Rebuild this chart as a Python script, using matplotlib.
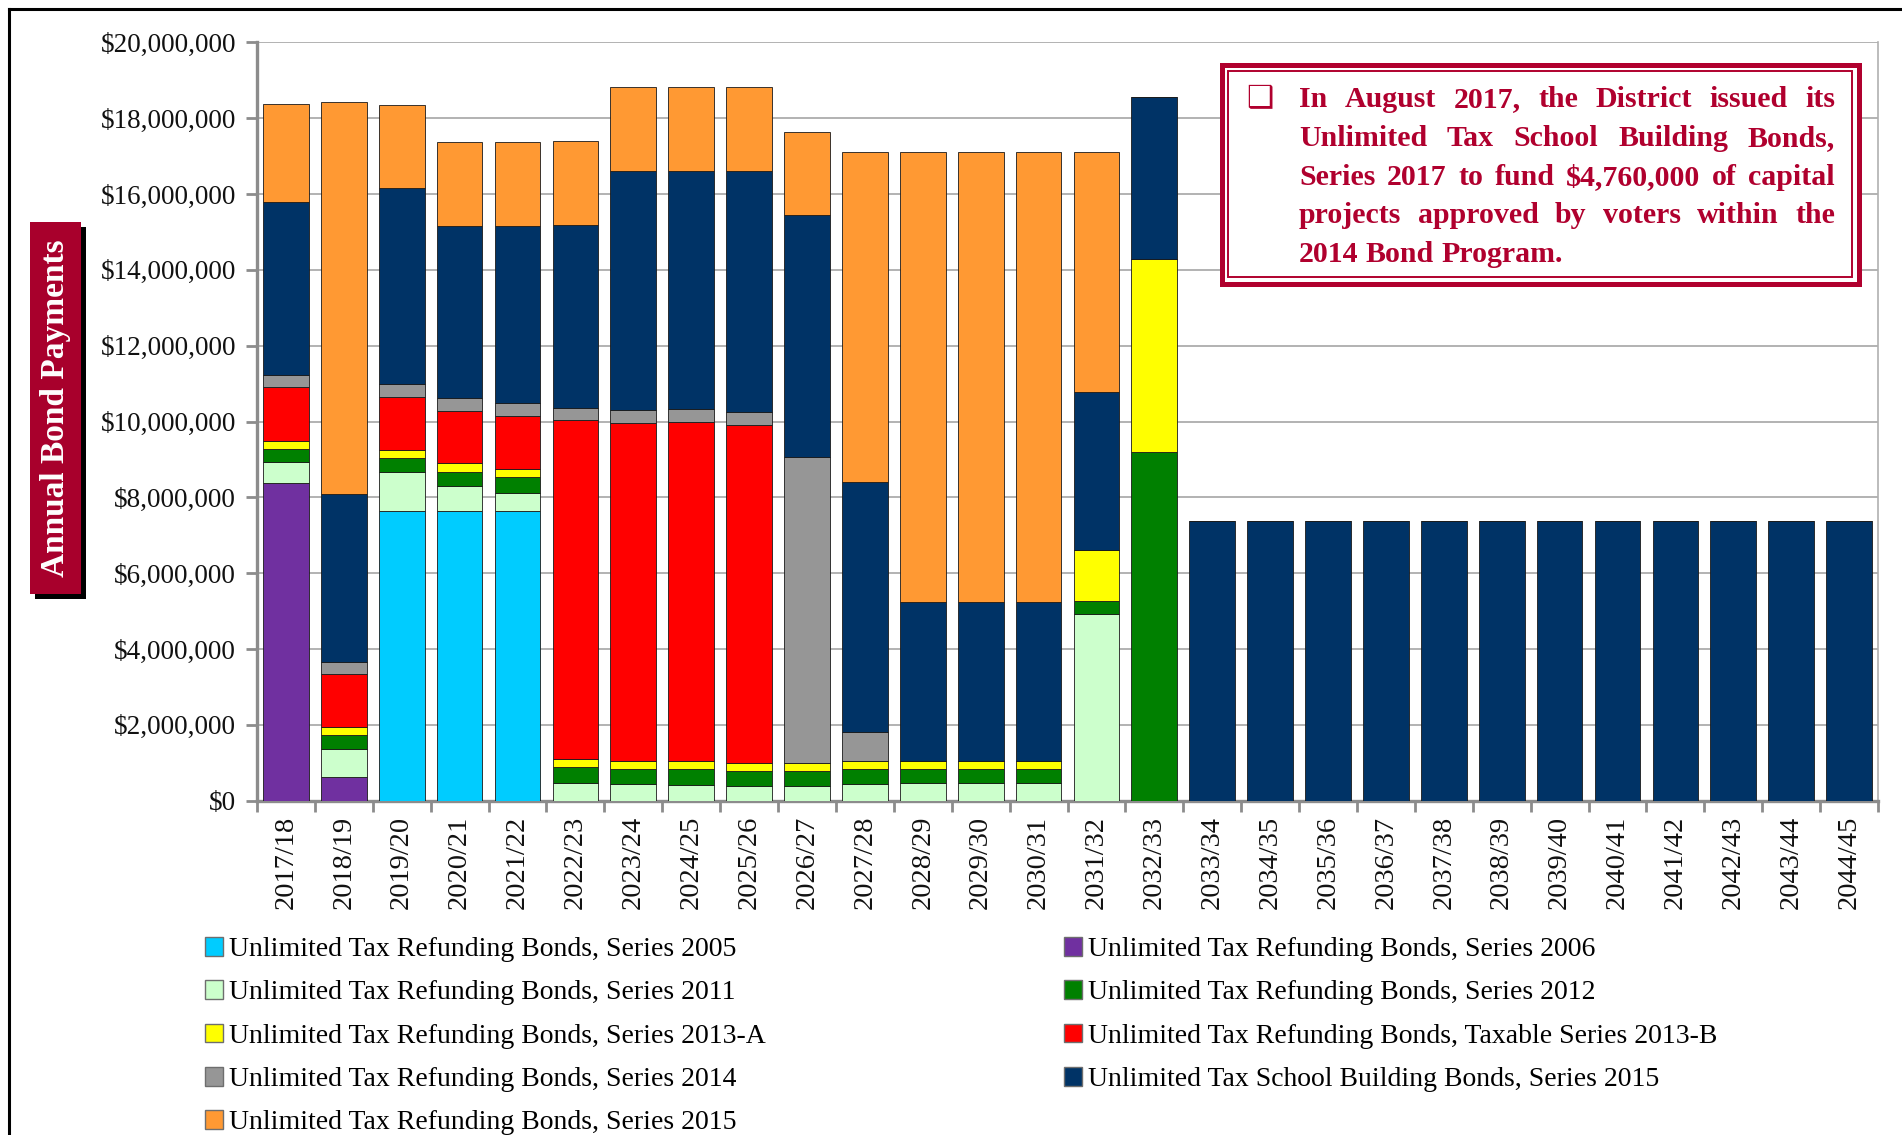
import matplotlib
matplotlib.use("Agg")
import matplotlib.pyplot as plt
from matplotlib.patches import Rectangle
from matplotlib.lines import Line2D
from matplotlib.ticker import FuncFormatter, MultipleLocator, FixedLocator

# ---------------- data (millions of dollars) ----------------
years = ["2017/18", "2018/19", "2019/20", "2020/21", "2021/22", "2022/23", "2023/24",
         "2024/25", "2025/26", "2026/27", "2027/28", "2028/29", "2029/30", "2030/31",
         "2031/32", "2032/33", "2033/34", "2034/35", "2035/36", "2036/37", "2037/38",
         "2038/39", "2039/40", "2040/41", "2041/42", "2042/43", "2043/44", "2044/45"]

z12 = [0] * 12
ref_2006 = [8.37, 0.63] + [0] * 14 + z12
ref_2005 = [0, 0, 7.63, 7.63, 7.63] + [0] * 11 + z12
ref_2011 = [0.55, 0.73, 1.03, 0.67, 0.48, 0.47, 0.43, 0.42, 0.40, 0.40, 0.45, 0.47, 0.47, 0.47, 4.93, 0] + z12
ref_2012 = [0.36, 0.37, 0.38, 0.38, 0.42, 0.42, 0.41, 0.41, 0.38, 0.38, 0.38, 0.36, 0.36, 0.36, 0.35, 9.20] + z12
ref_2013a = [0.21, 0.21, 0.22, 0.22, 0.22, 0.20, 0.22, 0.22, 0.21, 0.21, 0.21, 0.21, 0.21, 0.21, 1.32, 5.10] + z12
ref_2013b = [1.41, 1.39, 1.39, 1.38, 1.40, 8.94, 8.91, 8.93, 8.93, 0, 0, 0, 0, 0, 0, 0] + z12
ref_2014 = [0.33, 0.34, 0.33, 0.35, 0.35, 0.34, 0.34, 0.34, 0.33, 8.08, 0.76, 0, 0, 0, 0, 0] + z12
sb_2015 = [4.55, 4.41, 5.19, 4.54, 4.67, 4.81, 6.30, 6.30, 6.37, 6.37, 6.60, 4.20, 4.20, 4.20, 4.17, 4.26] + [7.38] * 12
ref_2015 = [2.60, 10.34, 2.19, 2.21, 2.21, 2.21, 2.21, 2.20, 2.20, 2.21, 8.71, 11.87, 11.87, 11.87, 6.33, 0] + z12

series = [
    ("Unlimited Tax Refunding Bonds, Series 2006", ref_2006, "#7030A0"),
    ("Unlimited Tax Refunding Bonds, Series 2005", ref_2005, "#00CCFF"),
    ("Unlimited Tax Refunding Bonds, Series 2011", ref_2011, "#CCFFCC"),
    ("Unlimited Tax Refunding Bonds, Series 2012", ref_2012, "#008000"),
    ("Unlimited Tax Refunding Bonds, Series 2013-A", ref_2013a, "#FFFF00"),
    ("Unlimited Tax Refunding Bonds, Taxable Series 2013-B", ref_2013b, "#FF0000"),
    ("Unlimited Tax Refunding Bonds, Series 2014", ref_2014, "#969696"),
    ("Unlimited Tax School Building Bonds, Series 2015", sb_2015, "#003366"),
    ("Unlimited Tax Refunding Bonds, Series 2015", ref_2015, "#FF9933"),
]

note_lines = ["In August 2017, the District issued its",
              "Unlimited Tax School Building Bonds,",
              "Series 2017 to fund $4,760,000 of capital",
              "projects approved by voters within the",
              "2014 Bond Program."]

# ---------------- figure ----------------
W, H = 1902, 1135
fig = plt.figure(figsize=(W / 100, H / 100), dpi=100)
SERIF = ["Liberation Serif", "DejaVu Serif"]
CRIMSON = "#B0002E"

def fx(px):
    return px / W

def fy(py):
    return 1 - py / H

ax = fig.add_axes([fx(257), fy(800.7), fx(1878) - fx(257), fy(42.4) - fy(800.7)])

x = list(range(len(years)))
bottom = [0.0] * len(years)
handles = {}
for name, vals, col in series:
    dollars = [v * 1e6 for v in vals]
    ax.bar(x, dollars, width=0.79, bottom=bottom, color=col,
           edgecolor="#1a1a1a", linewidth=0.6, zorder=3)
    handles[name] = Rectangle((0, 0), 1, 1, facecolor=col, edgecolor="#6e6e6e", linewidth=1.0)
    bottom = [b + d for b, d in zip(bottom, dollars)]

ax.set_xlim(-0.5, len(years) - 0.5)
ax.set_ylim(0, 20e6)
ax.yaxis.set_major_locator(MultipleLocator(2e6))
ax.yaxis.set_major_formatter(FuncFormatter(lambda v, p: "${:,.0f}".format(v)))
ax.grid(axis="y", color="#A6A6A6", linewidth=1.2, zorder=0)
ax.set_axisbelow(True)

ax.set_xticks(x)
ax.set_xticklabels(years, rotation=90, family=SERIF, fontsize=20.5, color="#111111")
ax.xaxis.set_minor_locator(FixedLocator([i - 0.5 for i in range(len(years) + 1)]))
ax.tick_params(axis="x", which="major", length=0, pad=11)
ax.tick_params(axis="x", which="minor", length=8, width=2, color="#8C8C8C", direction="out")
ax.tick_params(axis="y", which="major", length=8, width=2, color="#8C8C8C", pad=7,
               labelsize=19.5, labelcolor="#111111")
for lab in ax.get_yticklabels():
    lab.set_family(SERIF)

for s in ["left", "bottom"]:
    ax.spines[s].set_color("#8C8C8C")
    ax.spines[s].set_linewidth(2.4)
ax.spines["right"].set_color("#B0B0B0")
ax.spines["right"].set_linewidth(1.2)
ax.spines["top"].set_visible(False)

# ---------------- outer frame ----------------
fig.add_artist(Line2D([fx(9), fx(1902)], [fy(9), fy(9)], color="black", linewidth=2.2))
fig.add_artist(Line2D([fx(9), fx(9)], [fy(9), fy(1135)], color="black", linewidth=2.2))

# ---------------- y label box ----------------
fig.add_artist(Rectangle((fx(35), fy(599)), fx(51), (594 - 222) / H,
                         transform=fig.transFigure, facecolor="black", edgecolor="none"))
fig.add_artist(Rectangle((fx(30), fy(594)), fx(51), (594 - 222) / H,
                         transform=fig.transFigure, facecolor="#A8002C", edgecolor="none"))
fig.text(fx(55.5), fy(408), "Annual Bond Payments", rotation=90, ha="center", va="center",
         color="white", fontsize=24, fontweight="bold", family=SERIF)

# ---------------- legend ----------------
col1 = ["Unlimited Tax Refunding Bonds, Series 2005",
        "Unlimited Tax Refunding Bonds, Series 2011",
        "Unlimited Tax Refunding Bonds, Series 2013-A",
        "Unlimited Tax Refunding Bonds, Series 2014",
        "Unlimited Tax Refunding Bonds, Series 2015"]
col2 = ["Unlimited Tax Refunding Bonds, Series 2006",
        "Unlimited Tax Refunding Bonds, Series 2012",
        "Unlimited Tax Refunding Bonds, Taxable Series 2013-B",
        "Unlimited Tax School Building Bonds, Series 2015"]
leg_kw = dict(loc="upper left", frameon=False, borderpad=0, borderaxespad=0,
              handlelength=0.65, handleheight=0.65, handletextpad=0.2, labelspacing=0.66,
              prop={"family": SERIF, "size": 20})
fig.legend([handles[n] for n in col1], col1, bbox_to_anchor=(fx(205), fy(937)), **leg_kw)
fig.legend([handles[n] for n in col2], col2, bbox_to_anchor=(fx(1064), fy(937)), **leg_kw)

# ---------------- callout box ----------------
bx0, by0, bx1, by1 = 1219, 62, 1861, 286
fig.add_artist(Rectangle((fx(bx0 + 2.5), fy(by1 - 2.5)), fx(bx1 - bx0 - 5), (by1 - by0 - 5) / H,
                         transform=fig.transFigure, facecolor="white",
                         edgecolor=CRIMSON, linewidth=3.6, zorder=5))
fig.add_artist(Rectangle((fx(bx0 + 9), fy(by1 - 9)), fx(bx1 - bx0 - 18), (by1 - by0 - 18) / H,
                         transform=fig.transFigure, facecolor="none",
                         edgecolor=CRIMSON, linewidth=1.4, zorder=6))
fig.text(fx(1246), fy(107), "\u2751", family=["DejaVu Sans"], fontsize=22, color=CRIMSON,
         ha="left", va="baseline", zorder=7)

fig.canvas.draw()
rend = fig.canvas.get_renderer()
tx0, tx1 = 1299, 1835
base_y = [107, 146, 185, 223, 262]
note_kw = dict(family=SERIF, fontsize=21.5, fontweight="bold", color=CRIMSON,
               ha="left", va="baseline", zorder=7)
space_w = None
for i, line in enumerate(note_lines):
    words = line.split(" ")
    ts = [fig.text(0, fy(base_y[i]), w, **note_kw) for w in words]
    ws = [t.get_window_extent(rend).width for t in ts]
    if space_w is None:
        probe = fig.text(0, 0, "a a", **note_kw)
        probe2 = fig.text(0, 0, "aa", **note_kw)
        space_w = probe.get_window_extent(rend).width - probe2.get_window_extent(rend).width
        probe.remove(); probe2.remove()
    if i < len(note_lines) - 1 and len(words) > 1:
        gap = (tx1 - tx0 - sum(ws)) / (len(words) - 1)
    else:
        gap = space_w
    cx = tx0
    for t, w in zip(ts, ws):
        t.set_x(fx(cx))
        cx += w + gap

fig.savefig("out.png", dpi=100)
